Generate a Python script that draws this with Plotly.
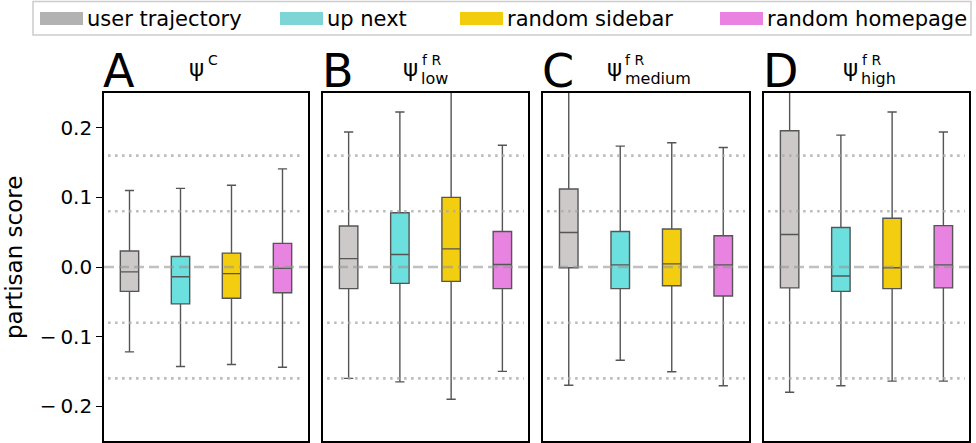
import plotly.graph_objects as go

# ---------------- data ----------------
sources = ["user trajectory", "up next", "random sidebar", "random homepage"]
panel_letters = ["A", "B", "C", "D"]
panel_sup = ["C", "f R", "f R", "f R"]
panel_sub = ["", "low", "medium", "high"]

# per panel (A..D), per source (user trajectory, up next, random sidebar, random homepage)
whisker_high = [
    [0.110, 0.113, 0.1175, 0.141],
    [0.194, 0.2226, 0.280, 0.175],
    [0.300, 0.1737, 0.1785, 0.1718],
    [0.330, 0.1895, 0.2226, 0.194],
]
q3 = [
    [0.023, 0.015, 0.020, 0.034],
    [0.059, 0.078, 0.100, 0.051],
    [0.112, 0.051, 0.0547, 0.045],
    [0.1957, 0.0567, 0.070, 0.0595],
]
median = [
    [-0.007, -0.014, -0.0095, -0.002],
    [0.012, 0.018, 0.026, 0.0035],
    [0.0495, 0.003, 0.0045, 0.003],
    [0.0466, -0.013, -0.001, 0.003],
]
q1 = [
    [-0.035, -0.053, -0.045, -0.037],
    [-0.031, -0.0235, -0.0206, -0.031],
    [-0.001, -0.031, -0.027, -0.0417],
    [-0.030, -0.035, -0.031, -0.030],
]
whisker_low = [
    [-0.122, -0.143, -0.140, -0.144],
    [-0.160, -0.165, -0.190, -0.150],
    [-0.170, -0.134, -0.1506, -0.1707],
    [-0.180, -0.1707, -0.164, -0.164],
]
dotted_levels = [-0.16, -0.08, 0.08, 0.16]
ytick_vals = [-0.2, -0.1, 0.0, 0.1, 0.2]
ytick_text = ["\u2212\u20090.2", "\u2212\u20090.1", "0.0", "0.1", "0.2"]

# ---------------- style ----------------
box_fill = ["#cdc9c9", "#6be0df", "#f3ce10", "#e883e1"]
legend_fill = ["#b2b2b2", "#7dd5d5", "#f2cd0e", "#e982e0"]
W, H = 976, 443
L, R, T, B = 104, 7, 93, 2
plot_w = W - L - R
plot_h = H - T - B
dom_px = [(104, 308), (323, 528), (543, 749), (764, 969)]


def px2x(px):
    return (px - L) / plot_w


def py2y(py):
    return (H - B - py) / plot_h


FONT = "DejaVu Sans"

fig = go.Figure()
layout_axes = {}
shapes = []
annotations = []

for p in range(4):
    k = "" if p == 0 else str(p + 1)
    xa, ya = "x" + k, "y" + k
    for s in range(4):
        fig.add_trace(go.Box(
            x=[s],
            q1=[q1[p][s]], median=[median[p][s]], q3=[q3[p][s]],
            lowerfence=[whisker_low[p][s]], upperfence=[whisker_high[p][s]],
            width=0.36, whiskerwidth=0.5,
            fillcolor=box_fill[s],
            line=dict(color="#555555", width=1.4),
            boxpoints=False, showlegend=False, hoverinfo="skip",
            xaxis=xa, yaxis=ya,
        ))
    d0, d1 = dom_px[p]
    layout_axes["xaxis" + k] = dict(
        domain=[px2x(d0), px2x(d1)], range=[-0.5, 3.5],
        showticklabels=False, ticks="", showgrid=False, zeroline=False,
        showline=True, mirror=True, linecolor="black", linewidth=1.6,
        anchor=ya, fixedrange=True,
    )
    yax = dict(
        range=[-0.25, 0.25], showgrid=False, zeroline=False,
        showline=True, mirror=True, linecolor="black", linewidth=1.6,
        anchor=xa, fixedrange=True,
    )
    if p == 0:
        yax.update(tickvals=ytick_vals, ticktext=ytick_text, ticks="outside",
                   ticklen=6, tickwidth=1.3, tickcolor="black",
                   tickfont=dict(family=FONT, size=20, color="black"))
    else:
        yax.update(showticklabels=False, ticks="")
    layout_axes["yaxis" + k] = yax

    # reference lines (drawn above the boxes)
    for lv in dotted_levels:
        shapes.append(dict(type="line", xref=xa + " domain", yref=ya,
                           x0=0.02, x1=0.98, y0=lv, y1=lv, layer="above",
                           line=dict(color="rgba(170,170,170,0.8)", width=2.6,
                                     dash="2.5px,4.5px")))
    shapes.append(dict(type="line", xref=xa + " domain", yref=ya,
                       x0=0, x1=1, y0=0, y1=0, layer="above",
                       line=dict(color="rgba(150,150,150,0.6)", width=2.6,
                                 dash="10px,5px")))

    # panel letter
    annotations.append(dict(text=panel_letters[p], xref="paper", yref="paper",
                            x=px2x(d0 - 2), y=py2y(71), xanchor="left", yanchor="middle",
                            showarrow=False, borderpad=0,
                            font=dict(family=FONT, size=46, color="black")))
    # psi title
    center = (d0 + d1) / 2
    offs = [-1, -6.5, -23.5, -7.5][p]
    xr = center + offs
    annotations.append(dict(text="\u03c8", xref="paper", yref="paper",
                            x=px2x(xr), y=py2y(68), xanchor="right", yanchor="middle",
                            showarrow=False, borderpad=0,
                            font=dict(family=FONT, size=23, color="black")))
    annotations.append(dict(text=panel_sup[p], xref="paper", yref="paper",
                            x=px2x(xr + 1.5), y=py2y(60), xanchor="left", yanchor="middle",
                            showarrow=False, borderpad=0,
                            font=dict(family=FONT, size=14, color="black")))
    if panel_sub[p]:
        annotations.append(dict(text=panel_sub[p], xref="paper", yref="paper",
                                x=px2x(xr + 1), y=py2y(78.5), xanchor="left", yanchor="middle",
                                showarrow=False, borderpad=0,
                                font=dict(family=FONT, size=16, color="black")))

# y-axis title
annotations.append(dict(text="partisan score", xref="paper", yref="paper",
                        x=px2x(14), y=py2y(258), xanchor="center", yanchor="middle",
                        textangle=-90, showarrow=False,
                        font=dict(family=FONT, size=23, color="black")))

# legend (manual)
shapes.append(dict(type="rect", xref="paper", yref="paper",
                   x0=px2x(33), x1=px2x(971), y0=py2y(1.5), y1=py2y(35),
                   line=dict(color="#cccccc", width=1.5), fillcolor="white", layer="above"))
sw_left = [40, 280, 460, 720]
for s in range(4):
    shapes.append(dict(type="rect", xref="paper", yref="paper",
                       x0=px2x(sw_left[s]), x1=px2x(sw_left[s] + 43),
                       y0=py2y(12), y1=py2y(25), line=dict(width=0),
                       fillcolor=legend_fill[s], layer="above"))
    annotations.append(dict(text=sources[s], xref="paper", yref="paper",
                            x=px2x(sw_left[s] + 45), y=py2y(18.5),
                            xanchor="left", yanchor="middle", showarrow=False,
                            font=dict(family=FONT, size=21, color="black")))

fig.update_layout(
    width=W, height=H,
    margin=dict(l=L, r=R, t=T, b=B),
    paper_bgcolor="white", plot_bgcolor="white",
    showlegend=False, boxmode="overlay",
    shapes=shapes, annotations=annotations,
    **layout_axes,
)

fig.write_html(
    "out.html",
    config={"displayModeBar": False},
    post_script="document.body.style.margin='0';document.body.style.padding='0';"
                "document.documentElement.style.overflow='hidden';",
)
